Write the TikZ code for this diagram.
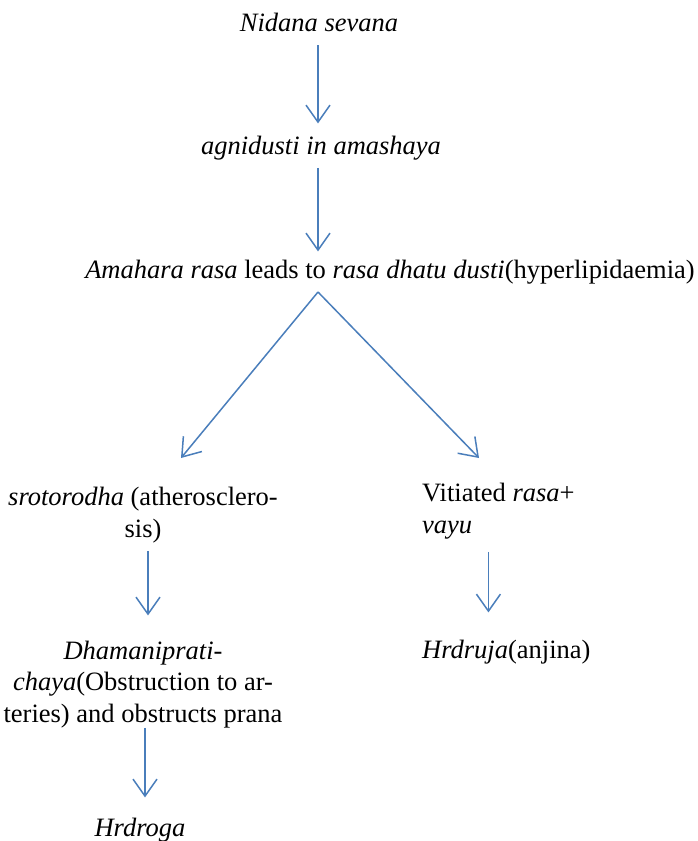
\documentclass[tikz,border=0pt]{standalone}
\usepackage{fontspec}
\setmainfont{Liberation Serif}
\usetikzlibrary{arrows.meta,calc}

\definecolor{arrowblue}{RGB}{74,126,187}

\begin{document}
\begin{tikzpicture}[x=1pt,y=-1pt,
    txt/.style={inner sep=0pt,anchor=base,font=\fontsize{26.5}{31.5}\selectfont},
    arr/.style={draw=arrowblue,line width=1.5pt,
      -{Straight Barb[length=17pt,width=24pt]}}]
  \useasboundingbox (0,0) rectangle (698,841);

  % chain at the top
  \node[txt] (nidana) at (319,31) {\textit{Nidana sevana}};
  \node[txt] (agni) at (321,154) {\textit{agnidusti in amashaya}};
  \node[txt] (amahara) at (390,278)
    {\textit{Amahara rasa} leads to \textit{rasa dhatu dusti}(hyperlipidaemia)};

  % left branch (base = last line)
  \node[txt,align=center] (sroto) at (143,537)
    {\textit{srotorodha} (atherosclero-\\sis)};
  \node[txt,align=center] (dhamani) at (143,722)
    {\textit{Dhamaniprati-}\\ \textit{chaya}(Obstruction to ar-\\teries) and obstructs prana};
  \node[txt] (hrdroga) at (140,836) {\textit{Hrdroga}};

  % right branch
  \node[txt,anchor=base west,align=left] (vitiated) at (422,533)
    {Vitiated \textit{rasa}+\\ \textit{vayu}};
  \node[txt,anchor=base west] (hrdruja) at (422,658) {\textit{Hrdruja}(anjina)};

  \coordinate (fork) at (318,292);
  \coordinate (lefttip) at (181,458);
  \coordinate (righttip) at (479,458);

  \draw[arr,shorten <=14pt,shorten >=12pt]
    ([xshift=-1pt]nidana.south) -- ([xshift=-1pt]nidana.south |- agni.north);
  \draw[arr,shorten <=8pt,shorten >=8pt]
    ([xshift=-3pt]agni.south) -- ([xshift=-3pt]agni.south |- amahara.north);
  \draw[arr] (fork) -- (lefttip);
  \draw[arr] (fork) -- (righttip);
  \draw[arr,shorten <=8pt,shorten >=25pt]
    ([xshift=5pt]sroto.south) -- ([xshift=5pt]sroto.south |- dhamani.north);
  \draw[arr,shorten <=13pt,shorten >=27pt]
    ([xshift=-10pt]vitiated.south) -- ([xshift=-10pt]vitiated.south |- hrdruja.north);
  \draw[arr,shorten <=0pt,shorten >=20pt]
    ([xshift=2pt]dhamani.south) -- ([xshift=2pt]dhamani.south |- hrdroga.north);
\end{tikzpicture}
\end{document}
